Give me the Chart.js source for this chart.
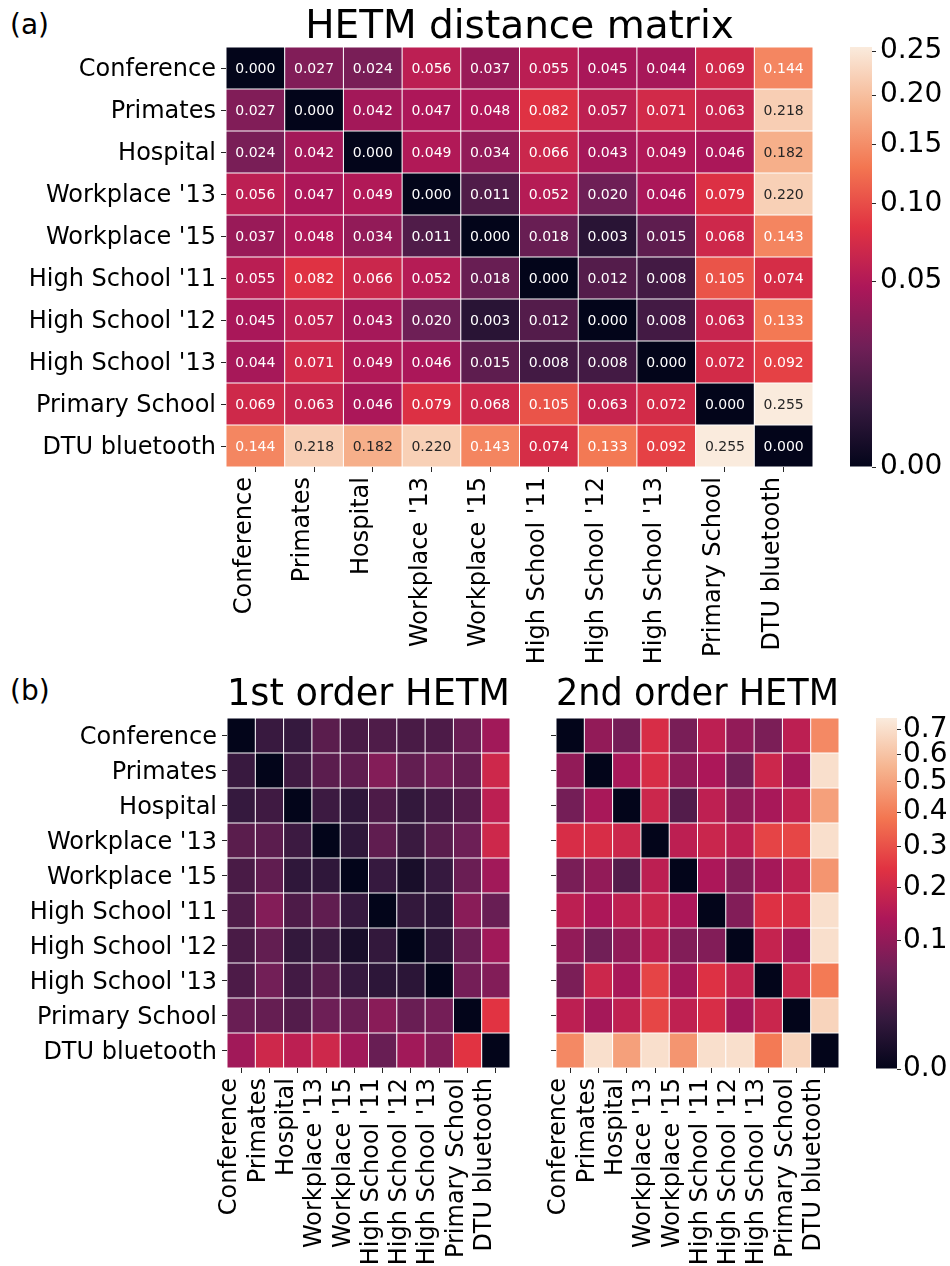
<!DOCTYPE html>
<html>
<head>
<meta charset="utf-8">
<script src="https://cdn.jsdelivr.net/npm/chart.js@4.4.1/dist/chart.umd.min.js"></script>
<style>
  html, body { margin: 0; padding: 0; background: #ffffff; }
  body { width: 950px; height: 1266px; position: relative; overflow: hidden; }
  canvas { position: absolute; }
  .panel-tag { position: absolute; font: 28px "DejaVu Sans"; color: #000; line-height: 1; }
</style>
</head>
<body>
<div class="panel-tag" style="left:10px; top:11px;">(a)</div>
<div class="panel-tag" style="left:10px; top:677px;">(b)</div>

<canvas id="distanceChart" width="840" height="680" style="left:0px; top:0px;"></canvas>
<canvas id="distanceBar" width="110" height="500" style="left:840px; top:0px;"></canvas>
<canvas id="firstChart" width="540" height="606" style="left:0px; top:660px;"></canvas>
<canvas id="secondChart" width="320" height="606" style="left:540px; top:660px;"></canvas>
<canvas id="orderBar" width="90" height="606" style="left:860px; top:660px;"></canvas>

<script>
// Networks, in row / column order
const networks = ["Conference", "Primates", "Hospital", "Workplace '13", "Workplace '15",
  "High School '11", "High School '12", "High School '13", "Primary School", "DTU bluetooth"];

// (a) HETM distance matrix
const hetmDistance = [
  [0.000, 0.027, 0.024, 0.056, 0.037, 0.055, 0.045, 0.044, 0.069, 0.144],
  [0.027, 0.000, 0.042, 0.047, 0.048, 0.082, 0.057, 0.071, 0.063, 0.218],
  [0.024, 0.042, 0.000, 0.049, 0.034, 0.066, 0.043, 0.049, 0.046, 0.182],
  [0.056, 0.047, 0.049, 0.000, 0.011, 0.052, 0.020, 0.046, 0.079, 0.220],
  [0.037, 0.048, 0.034, 0.011, 0.000, 0.018, 0.003, 0.015, 0.068, 0.143],
  [0.055, 0.082, 0.066, 0.052, 0.018, 0.000, 0.012, 0.008, 0.105, 0.074],
  [0.045, 0.057, 0.043, 0.020, 0.003, 0.012, 0.000, 0.008, 0.063, 0.133],
  [0.044, 0.071, 0.049, 0.046, 0.015, 0.008, 0.008, 0.000, 0.072, 0.092],
  [0.069, 0.063, 0.046, 0.079, 0.068, 0.105, 0.063, 0.072, 0.000, 0.255],
  [0.144, 0.218, 0.182, 0.220, 0.143, 0.074, 0.133, 0.092, 0.255, 0.000]
];

// (b) 1st order HETM
const firstOrder = [
  [0.000, 0.017, 0.015, 0.040, 0.027, 0.032, 0.027, 0.030, 0.054, 0.120],
  [0.017, 0.000, 0.021, 0.041, 0.046, 0.081, 0.047, 0.063, 0.050, 0.200],
  [0.015, 0.021, 0.000, 0.019, 0.012, 0.030, 0.014, 0.023, 0.035, 0.165],
  [0.040, 0.041, 0.019, 0.000, 0.012, 0.046, 0.018, 0.039, 0.058, 0.200],
  [0.027, 0.046, 0.012, 0.012, 0.000, 0.016, 0.003, 0.016, 0.055, 0.120],
  [0.032, 0.081, 0.030, 0.046, 0.016, 0.000, 0.014, 0.011, 0.088, 0.053],
  [0.027, 0.047, 0.014, 0.018, 0.003, 0.014, 0.000, 0.010, 0.054, 0.120],
  [0.030, 0.063, 0.023, 0.039, 0.016, 0.011, 0.010, 0.000, 0.065, 0.080],
  [0.054, 0.050, 0.035, 0.058, 0.055, 0.088, 0.054, 0.065, 0.000, 0.243],
  [0.120, 0.200, 0.165, 0.200, 0.120, 0.053, 0.120, 0.080, 0.243, 0.000]
];

// (b) 2nd order HETM
const secondOrder = [
  [0.000, 0.100, 0.065, 0.220, 0.070, 0.165, 0.100, 0.072, 0.165, 0.430],
  [0.100, 0.000, 0.130, 0.220, 0.100, 0.135, 0.062, 0.195, 0.125, 0.700],
  [0.065, 0.130, 0.000, 0.195, 0.035, 0.168, 0.098, 0.130, 0.170, 0.490],
  [0.220, 0.220, 0.195, 0.000, 0.165, 0.190, 0.165, 0.275, 0.280, 0.700],
  [0.070, 0.100, 0.035, 0.165, 0.000, 0.135, 0.080, 0.125, 0.170, 0.460],
  [0.165, 0.135, 0.168, 0.190, 0.135, 0.000, 0.080, 0.235, 0.220, 0.700],
  [0.100, 0.062, 0.098, 0.165, 0.080, 0.080, 0.000, 0.180, 0.125, 0.700],
  [0.072, 0.195, 0.130, 0.275, 0.125, 0.235, 0.180, 0.000, 0.190, 0.390],
  [0.165, 0.125, 0.170, 0.280, 0.170, 0.220, 0.125, 0.190, 0.000, 0.660],
  [0.430, 0.700, 0.490, 0.700, 0.460, 0.700, 0.700, 0.390, 0.660, 0.000]
];

// Colour bar ticks and colour-scale maxima (square-root scale)
const distanceTicks = [0.00, 0.05, 0.10, 0.15, 0.20, 0.25];
const orderTicks = [0.0, 0.1, 0.2, 0.3, 0.4, 0.5, 0.6, 0.7];
const distanceMax = 0.255;
const orderMax = 0.747;

const FONT = '"DejaVu Sans"';
Chart.defaults.font.family = FONT;
Chart.defaults.color = '#000';

// "rocket" colour map key colours
const rocketStops = [
  [0 / 7, '#03051a'], [1 / 7, '#35193e'], [2 / 7, '#701f57'], [3 / 7, '#ad1759'],
  [4 / 7, '#e13342'], [5 / 7, '#f37651'], [6 / 7, '#f6b48f'], [7 / 7, '#faebdd']
];
function hexRgb(h) { return [1, 3, 5].map(i => parseInt(h.slice(i, i + 2), 16)); }
function rocket(t) {
  t = Math.max(0, Math.min(1, t));
  for (let i = 1; i < rocketStops.length; i++) {
    const [p1, c1] = rocketStops[i];
    if (t <= p1) {
      const [p0, c0] = rocketStops[i - 1];
      const f = (t - p0) / (p1 - p0);
      const a = hexRgb(c0), b = hexRgb(c1);
      return a.map((v, k) => Math.round(v + (b[k] - v) * f));
    }
  }
  return hexRgb(rocketStops[rocketStops.length - 1][1]);
}
const rgbStr = c => `rgb(${c[0]},${c[1]},${c[2]})`;
function luminance(c) {
  const lin = c.map(v => { v /= 255; return v <= 0.03928 ? v / 12.92 : Math.pow((v + 0.055) / 1.055, 2.4); });
  return 0.2126 * lin[0] + 0.7152 * lin[1] + 0.0722 * lin[2];
}

// Writes each cell's value in the middle of its bar
const cellValues = {
  id: 'cellValues',
  afterDatasetsDraw(chart, args, opts) {
    if (!opts.matrix) return;
    const ctx = chart.ctx;
    ctx.save();
    ctx.font = `14px ${FONT}`;
    ctx.textAlign = 'center';
    ctx.textBaseline = 'middle';
    chart.data.datasets.forEach((ds, r) => {
      chart.getDatasetMeta(r).data.forEach((bar, c) => {
        const v = opts.matrix[r][c];
        const rgb = rocket(Math.sqrt(v / opts.vmax));
        ctx.fillStyle = luminance(rgb) > 0.408 ? '#262626' : '#ffffff';
        ctx.fillText(v.toFixed(3), bar.x, (bar.y + bar.base) / 2 + 1);
      });
    });
    ctx.restore();
  }
};

function tickGrid() {
  return { drawOnChartArea: false, drawTicks: true, tickLength: 5, tickColor: '#262626', lineWidth: 1, offset: false };
}

function heatmap(id, matrix, o) {
  const datasets = networks.map((name, r) => ({
    label: name,
    data: networks.map(() => [r, r + 1]),
    backgroundColor: matrix[r].map(v => rgbStr(rocket(Math.sqrt(v / o.vmax)))),
    borderColor: '#ffffff',
    borderWidth: 0.5,
    borderSkipped: false,
    inflateAmount: 0,
    grouped: false,
    barPercentage: 1,
    categoryPercentage: 1
  }));
  return new Chart(document.getElementById(id), {
    type: 'bar',
    data: { labels: networks, datasets },
    plugins: [cellValues],
    options: {
      responsive: false,
      animation: false,
      events: [],
      layout: { padding: { left: 0, top: 0, right: o.padRight, bottom: 0 } },
      plugins: {
        legend: { display: false },
        tooltip: { enabled: false },
        title: {
          display: true, text: o.title, fullSize: false, color: '#000',
          font: { size: o.titleSize, weight: 'normal', lineHeight: 1 },
          padding: { top: o.titleTop, bottom: o.titleBottom }
        },
        cellValues: { matrix: o.annotate ? matrix : null, vmax: o.vmax }
      },
      scales: {
        x: {
          type: 'category',
          offset: true,
          border: { display: false },
          grid: tickGrid(),
          ticks: {
            autoSkip: false, minRotation: 90, maxRotation: 90,
            font: { size: 24 }, color: '#000', padding: 5, labelOffset: -11
          },
          afterFit: s => { s.height = o.xHeight; }
        },
        y: {
          type: 'linear',
          min: 0, max: networks.length,
          reverse: true,
          border: { display: false },
          grid: tickGrid(),
          afterBuildTicks: s => { s.ticks = networks.map((_, i) => ({ value: i + 0.5 })); },
          ticks: {
            display: o.yLabels,
            font: { size: 24 }, color: '#000', padding: 5, labelOffset: 2,
            callback: v => networks[Math.floor(v)]
          },
          afterFit: s => { s.width = o.yWidth; }
        }
      }
    }
  });
}

function colourBar(id, ticks, vmax, digits, o) {
  return new Chart(document.getElementById(id), {
    type: 'bar',
    data: {
      labels: [''],
      datasets: [{
        data: [[0, 1]],
        backgroundColor: ctx => {
          const area = ctx.chart.chartArea;
          if (!area) return '#000';
          const g = ctx.chart.ctx.createLinearGradient(0, area.bottom, 0, area.top);
          rocketStops.forEach(([p, c]) => g.addColorStop(p, c));
          return g;
        },
        borderWidth: 0,
        inflateAmount: 0,
        barPercentage: 1,
        categoryPercentage: 1
      }]
    },
    options: {
      responsive: false,
      animation: false,
      events: [],
      layout: { padding: { left: o.left, top: o.top, right: 0, bottom: o.bottom } },
      plugins: { legend: { display: false }, tooltip: { enabled: false } },
      scales: {
        x: { display: false, offset: true },
        y: {
          type: 'linear', position: 'right', min: 0, max: 1,
          border: { display: false },
          grid: { drawOnChartArea: false, drawTicks: true, tickLength: 4, tickColor: '#262626', lineWidth: 1 },
          afterBuildTicks: s => { s.ticks = ticks.map(v => ({ value: Math.sqrt(v / vmax) })); },
          ticks: {
            font: { size: 28 }, color: '#000', padding: o.pad,
            callback: (v, i) => ticks[i].toFixed(digits)
          },
          afterFit: s => { s.width = o.axisWidth; }
        }
      }
    }
  });
}

heatmap('distanceChart', hetmDistance, {
  vmax: distanceMax, title: 'HETM distance matrix', titleSize: 39, annotate: true, yLabels: true,
  yWidth: 226, xHeight: 213, padRight: 27, titleTop: 8, titleBottom: 0
});
colourBar('distanceBar', distanceTicks, distanceMax, 2, { left: 10, top: 47, bottom: 33, axisWidth: 78, pad: 4 });

heatmap('firstChart', firstOrder, {
  vmax: orderMax, title: '1st order HETM', titleSize: 37, annotate: false, yLabels: true,
  yWidth: 227, xHeight: 198, padRight: 30, titleTop: 17, titleBottom: 4
});
heatmap('secondChart', secondOrder, {
  vmax: orderMax, title: '2nd order HETM', titleSize: 37, annotate: false, yLabels: false,
  yWidth: 16, xHeight: 198, padRight: 21, titleTop: 17, titleBottom: 4
});
colourBar('orderBar', orderTicks, orderMax, 1, { left: 16, top: 58, bottom: 197, axisWidth: 53, pad: 2 });
</script>
</body>
</html>
